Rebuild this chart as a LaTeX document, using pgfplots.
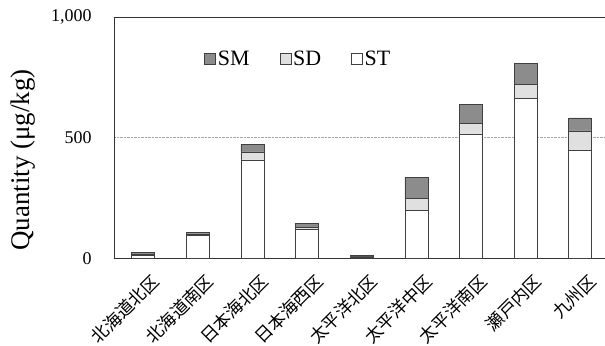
\documentclass[border=0pt]{standalone}
\usepackage{pgfplots}
\usepackage{pgfplotstable}
\usepackage{fontspec}
\pgfplotsset{compat=1.18}
\setmainfont{Liberation Serif}
\newfontfamily\cjk{Noto Sans CJK JP}

% ST, SD, SM per region (ug/kg)
\pgfplotstableread{
x ST SD SM
0 12 5 6
1 95 6 6
2 407 34 32
3 118 10 16
4 5 2 3
5 199 49 87
6 515 44 79
7 663 59 86
8 448 80 54
}\regions

\begin{document}
\begin{tikzpicture}
\path[use as bounding box] (-114bp,-87bp) rectangle (490.7bp,258bp);
\begin{axis}[
  scale only axis, width=491bp, height=241bp,
  xmin=-0.532, xmax=8.459, ymin=0, ymax=1000,
  ybar stacked, bar width=23bp,
  xtick={0,...,8},
  xticklabels={北海道北区,北海道南区,日本海北区,日本海西区,太平洋北区,太平洋中区,太平洋南区,瀬戸内区,九州区},
  xticklabel style={rotate=45, anchor=north east, inner sep=1bp, font=\cjk\fontsize{17.5}{18}\selectfont, xshift=-4bp, yshift=-14bp},
  ytick={0,500,1000},
  yticklabel style={font=\fontsize{18}{20}\selectfont, xshift=-19bp},
  /pgf/number format/assume math mode=true,
  /pgf/number format/1000 sep={,},
  major tick length=0pt,
  ymajorgrids, grid style={densely dotted, black!35, line width=0.5bp},
  axis line style={black!80, line width=0.6bp},
  ylabel={Quantity (μg/kg)},
  ylabel style={at={(axis description cs:-0.185,0.407)}, anchor=center, font=\fontsize{27}{28}\selectfont},
  legend style={at={(axis description cs:0.375,0.826)}, anchor=center, draw=none, fill=none,
    legend columns=3, font=\fontsize{22}{24}\selectfont,
    /tikz/every even column/.append style={column sep=28bp}},
  legend cell align=left,
  reverse legend,
  legend image code/.code={\draw[#1] (0bp,-5.5bp) rectangle (11bp,5.5bp);},
  every axis plot/.append style={draw=black!75, line width=0.5bp},
]
\addplot[fill=white] table[x=x, y=ST] {\regions};
\addplot[fill=black!12] table[x=x, y=SD] {\regions};
\addplot[fill=black!45] table[x=x, y=SM] {\regions};
\legend{ST,SD,SM}
\end{axis}
\end{tikzpicture}
\end{document}
